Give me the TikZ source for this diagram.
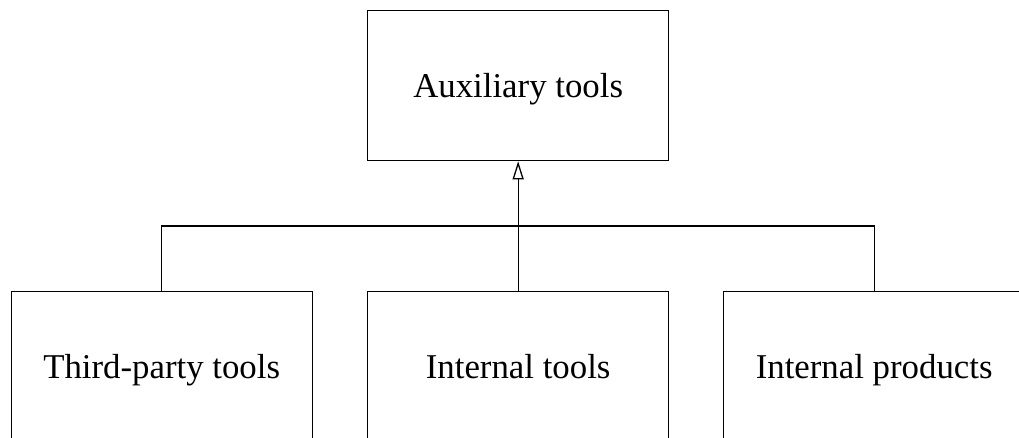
\documentclass[tikz,border=0pt]{standalone}
\usepackage{fontspec}
\setmainfont{Liberation Serif}
\usetikzlibrary{arrows.meta}
\begin{document}
\begin{tikzpicture}[x=1pt,y=-1pt,
  box/.style={draw=black, line width=1.3pt, minimum width=301pt, minimum height=150pt, inner sep=0pt, font=\fontsize{34.8}{40}\selectfont, text height=23pt, text depth=0pt, anchor=north west},
  conn/.style={draw=black, line width=1.3pt}]
\useasboundingbox (0,0) rectangle (1019,437);
\clip (0,0) rectangle (1019,437);
\node[box] (top) at (367,10) {Auxiliary tools};
\node[box] (left) at (10.5,291) {Third-party tools};
\node[box] (mid) at (367,291) {Internal tools};
\node[box] (right) at (723,291) {Internal products};
\coordinate (j) at (517,226);
\draw[conn] (left.north) |- (j) -| (right.north);
\draw[conn, -{Triangle[open, width=11pt, length=18pt]}] (mid.north) -- (top.south);
\end{tikzpicture}
\end{document}
